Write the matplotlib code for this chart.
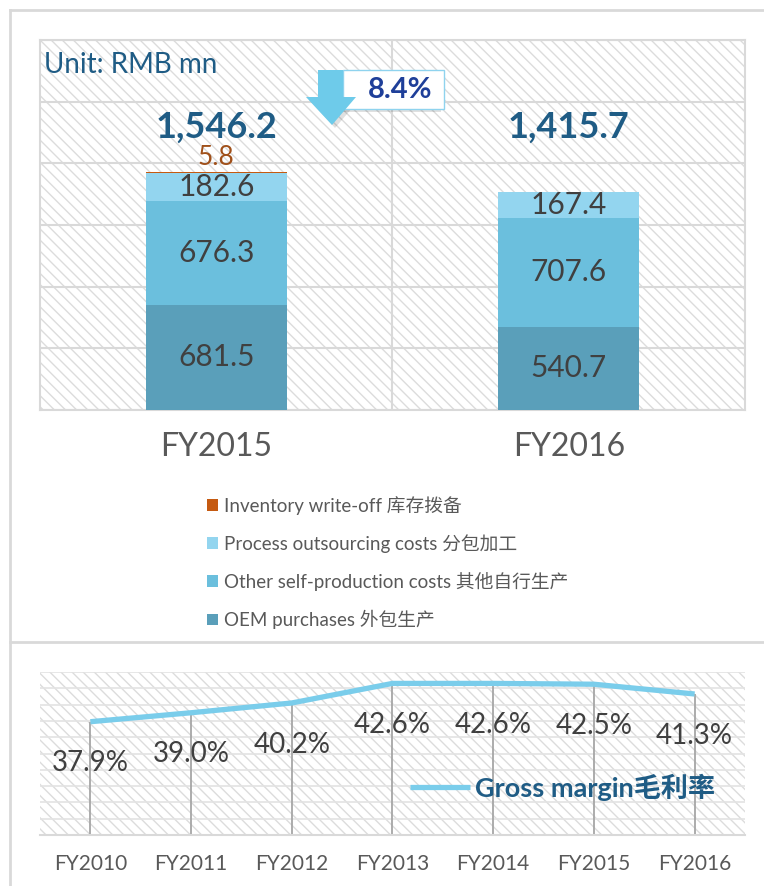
import matplotlib
matplotlib.use("Agg")
import matplotlib.pyplot as plt
from matplotlib.patches import Patch, Polygon, Rectangle
from matplotlib.lines import Line2D
import numpy as np

plt.rcParams['font.family'] = ['Lato', 'Noto Sans CJK SC', 'DejaVu Sans']
plt.rcParams['hatch.linewidth'] = 1.0

# data - cost of sales
years = ["FY2015", "FY2016"]
oem = [681.5, 540.7]
other_self = [676.3, 707.6]
process_out = [182.6, 167.4]
inventory = [5.8, 0.0]
totals = ["1,546.2", "1,415.7"]
change = "8.4%"

series_names = ["OEM purchases 外包生产", "Other self-production costs 其他自行生产",
                "Process outsourcing costs 分包加工", "Inventory write-off 库存拨备"]
series_colors = ["#5A9FBA", "#6BBFDD", "#93D5EF", "#C55A11"]

# data - gross margin
gm_years = ["FY2010", "FY2011", "FY2012", "FY2013", "FY2014", "FY2015", "FY2016"]
gm = [37.9, 39.0, 40.2, 42.6, 42.6, 42.5, 41.3]

W, H = 764, 886
fig = plt.figure(figsize=(W / 100, H / 100), dpi=100)
fig.patch.set_facecolor("white")

def fx(x):
    return x / W

def fy(y):
    return 1 - y / H

grid_c = "#D9D9D9"
label_c = "#404040"
blue_txt = "#1F5C85"

# ---------------- top chart ----------------
ax = fig.add_axes([fx(40), fy(410), fx(745) - fx(40), fy(40) - fy(410)])
ax.add_patch(Rectangle((0, 0), 1, 1, transform=ax.transAxes, facecolor="none",
                       edgecolor="#DCDCDC", hatch="\\\\\\", lw=0, zorder=0))
x = np.arange(len(years))
bw = 0.4
series = [oem, other_self, process_out, inventory]
bottom = np.zeros(len(years))
for vals, col in zip(series, series_colors):
    bars = ax.bar(x, vals, bw, bottom=bottom, color=col, zorder=3)
    bottom = bottom + np.array(vals)

# segment labels
b = np.zeros(len(years))
for k, vals in enumerate(series[:3]):
    for i, v in enumerate(vals):
        ax.text(x[i], b[i] + v / 2, f"{v:.1f}", ha="center", va="center",
                fontsize=21.5, color=label_c, zorder=4)
    b = b + np.array(vals)
# inventory write-off label
ax.annotate(f"{inventory[0]:.1f}", (x[0], b[0] + inventory[0]), xytext=(0, 1),
            textcoords="offset points", ha="center", va="bottom",
            fontsize=19, color="#A0501A", zorder=4)
for i, t in enumerate(totals):
    ax.text(x[i], 1835, t, ha="center", va="center", fontsize=26,
            fontweight="bold", color=blue_txt, zorder=4)

ax.set_xlim(-0.5, 1.5)
ax.set_ylim(0, 2400)
ax.set_yticks(np.arange(0, 2401, 400))
ax.yaxis.grid(True, color=grid_c, lw=1.5)
ax.axvline(0.5, color=grid_c, lw=1.5, zorder=1)
ax.set_axisbelow(True)
ax.tick_params(axis="y", left=False, labelleft=False)
ax.set_xticks(x)
ax.set_xticklabels(years, fontsize=23, color="#595959")
ax.tick_params(axis="x", length=0, pad=16)
for s in ax.spines.values():
    s.set_color(grid_c)
    s.set_linewidth(1.5)
ax.text(0.005, 0.932, "Unit: RMB mn", transform=ax.transAxes, ha="left",
        va="center", fontsize=20, color=blue_txt)

# legend
handles = [Patch(facecolor=c, edgecolor="none") for c in series_colors][::-1]
fig.legend(handles, series_names[::-1], loc="upper left",
           bbox_to_anchor=(fx(207), fy(496)), frameon=False, fontsize=13.5,
           labelcolor="#595959", handlelength=0.58, handleheight=0.58,
           handletextpad=0.3, labelspacing=1.02, borderpad=0, borderaxespad=0)

# arrow with change box
shadow = 3
arrow_pts = [(318, 70), (343, 70), (343, 97), (356, 97), (332, 125), (306, 97), (318, 97)]
fig.add_artist(Polygon([(fx(px + shadow), fy(py + shadow)) for px, py in arrow_pts],
                       closed=True, facecolor="#000000", alpha=0.12, edgecolor="none",
                       transform=fig.transFigure))
fig.add_artist(Rectangle((fx(343 - shadow), fy(109 + shadow)), fx(101), fy(0) - fy(39),
                         facecolor="#000000", alpha=0.12, edgecolor="none",
                         transform=fig.transFigure))
fig.add_artist(Rectangle((fx(343), fy(109)), fx(101), fy(0) - fy(39),
                         facecolor="white", edgecolor="#8FD3EE", lw=1,
                         transform=fig.transFigure))
fig.add_artist(Polygon([(fx(px), fy(py)) for px, py in arrow_pts], closed=True,
                       facecolor="#6ECBEA", edgecolor="none", transform=fig.transFigure))
fig.text(fx(400), fy(90), change, ha="center", va="center", fontsize=21,
         fontweight="bold", color="#1F3F99")

# ---------------- bottom chart ----------------
ax2 = fig.add_axes([fx(40), fy(835), fx(745) - fx(40), fy(672) - fy(835)])
ax2.add_patch(Rectangle((0, 0), 1, 1, transform=ax2.transAxes, facecolor="none",
                        edgecolor="#DCDCDC", hatch="\\\\\\", lw=0, zorder=0))
xg = np.arange(len(gm_years))
ax2.set_xlim(-0.5, len(gm_years) - 0.5)
ax2.set_ylim(24, 44)
ax2.set_yticks(np.arange(24, 44.1, 2))
ax2.yaxis.grid(True, color="#E3E3E3", lw=1.2)
ax2.set_axisbelow(True)
ax2.vlines(xg, 24, gm, color="#A6A6A6", lw=1.3, zorder=2)
line, = ax2.plot(xg, gm, color="#7ACDEB", lw=3.8, zorder=3,
                 solid_capstyle="butt", label="Gross margin毛利率")
for i, v in enumerate(gm):
    ax2.annotate(f"{v:.1f}%", (xg[i], v), xytext=(0, -30), textcoords="offset points",
                 ha="center", va="center", fontsize=20, color=label_c, zorder=4)
ax2.tick_params(axis="y", left=False, labelleft=False)
ax2.set_xticks(xg)
ax2.set_xticklabels(gm_years, fontsize=15, color="#595959")
ax2.tick_params(axis="x", length=0, pad=14)
for k in ["left", "right", "top"]:
    ax2.spines[k].set_visible(False)
ax2.spines["bottom"].set_color(grid_c)
ax2.spines["bottom"].set_linewidth(1.5)
ax2.legend(handles=[line], loc="center left", bbox_to_anchor=(0.525, 0.295),
           frameon=False, handlelength=2.2, handletextpad=0.2, borderpad=0,
           borderaxespad=0, prop={"size": 19.5, "weight": "bold"}, labelcolor=blue_txt)

# outer frame lines
for xs, ys in [((10, 10), (10, 886)), ((10, 764), (10, 10)), ((10, 764), (642, 642))]:
    fig.add_artist(Line2D([fx(xs[0]), fx(xs[1])], [fy(ys[0]), fy(ys[1])],
                          color=grid_c, lw=2, transform=fig.transFigure))

fig.savefig("out.png", dpi=100)
